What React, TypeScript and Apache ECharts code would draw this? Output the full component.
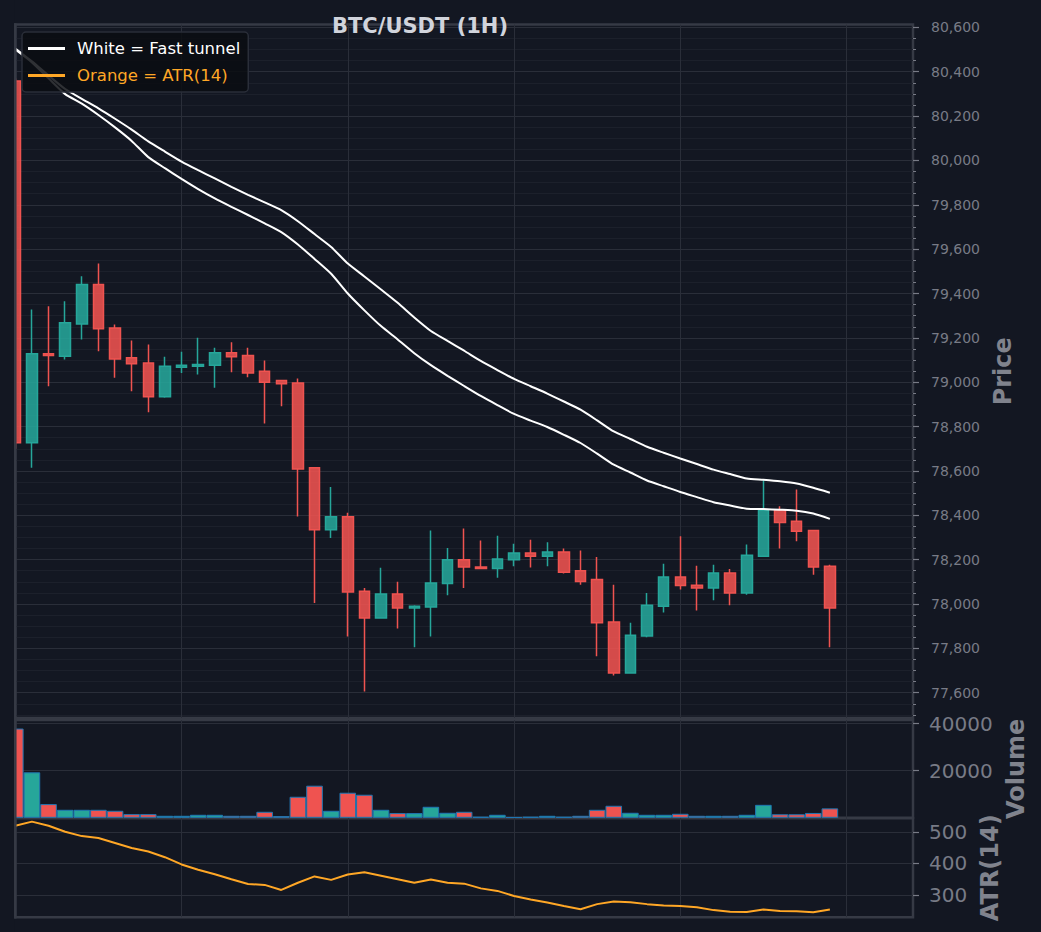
import { useEffect, useRef } from 'react'
import * as echarts from 'echarts'

// 50 hourly BTC/USDT candles
const opens = [
  80358, 78727, 79128, 79117, 79263, 79441, 79245, 79110, 79087, 78934,
  79068, 79072, 79077, 79133, 79120, 79050, 79008, 78997, 78614, 78335,
  78393, 78057, 77937, 78045, 77982, 77987, 78093, 78200, 78167, 78160,
  78200, 78230, 78215, 78235, 78150, 78110, 77919, 77689, 77856, 77990,
  78122, 78085, 78072, 78140, 78050, 78215, 78423, 78373, 78332, 78170,
]
const closes = [
  78727, 79128, 79120, 79268, 79441, 79241, 79105, 79083, 78934, 79072,
  79076, 79080, 79133, 79115, 79042, 79000, 78993, 78609, 78335, 78393,
  78054, 77937, 78045, 77982, 77990, 78095, 78200, 78167, 78160, 78203,
  78230, 78215, 78235, 78143, 78102, 77915, 77689, 77859, 77994, 78122,
  78084, 78072, 78140, 78050, 78220, 78423, 78368, 78328, 78167, 77982,
]
const lows = [
  78700, 78614, 78982, 79102, 79193, 79140, 79020, 78959, 78865, 78930,
  79042, 79035, 78975, 79045, 79023, 78814, 78892, 78395, 78005, 78298,
  77854, 77606, 77935, 77889, 77805, 77854, 78039, 78072, 78158, 78118,
  78170, 78165, 78170, 78138, 78087, 77764, 77678, 77686, 77850, 77962,
  78065, 77971, 78017, 77994, 78042, 78212, 78250, 78283, 78132, 77805,
]
const highs = [
  80370, 79328, 79343, 79365, 79478, 79535, 79260, 79188, 79170, 79115,
  79137, 79200, 79155, 79180, 79155, 79098, 79008, 79017, 78614, 78528,
  78411, 78072, 78163, 78100, 77994, 78331, 78253, 78340, 78286, 78308,
  78272, 78290, 78278, 78250, 78241, 78212, 78087, 77915, 78050, 78182,
  78305, 78173, 78177, 78158, 78268, 78561, 78441, 78516, 78335, 78177,
]
const volumes = [
  37860, 19290, 5810, 3400, 3400, 3400, 2980, 1560, 1560, 850,
  850, 1280, 1280, 850, 850, 2550, 710, 8930, 13610, 2980,
  10640, 9780, 3400, 1990, 1990, 4680, 2130, 2550, 430, 1280,
  280, 430, 850, 430, 850, 3400, 5100, 2130, 1280, 1280,
  1700, 850, 850, 850, 1280, 5500, 1500, 1500, 2050, 4000,
]
const atr14 = [
  520, 533, 520, 501, 487, 481, 465, 449, 438, 420,
  397, 380, 366, 350, 335, 332, 316, 339, 359, 348,
  365, 372, 361, 350, 339, 349, 339, 336, 321, 313,
  297, 286, 276, 265, 255, 271, 279, 277, 271, 267,
  265, 261, 252, 247, 246, 254, 249, 248, 245, 254,
]
const tunnelUpper = [
  80505, 80447, 80383, 80322, 80278, 80235, 80188, 80139, 80086, 80040,
  79995, 79956, 79919, 79881, 79845, 79811, 79776, 79726, 79668, 79610,
  79535, 79477, 79418, 79358, 79292, 79231, 79186, 79142, 79096, 79055,
  79015, 78982, 78949, 78913, 78876, 78828, 78778, 78744, 78709, 78682,
  78656, 78631, 78606, 78586, 78566, 78560, 78553, 78543, 78524, 78502,
]
const tunnelLower = [
  80500, 80442, 80370, 80299, 80256, 80205, 80149, 80088, 80015, 79965,
  79917, 79871, 79829, 79791, 79754, 79716, 79677, 79621, 79556, 79489,
  79400, 79324, 79253, 79193, 79131, 79077, 79029, 78983, 78938, 78897,
  78857, 78827, 78798, 78763, 78726, 78678, 78628, 78593, 78557, 78531,
  78505, 78482, 78459, 78444, 78430, 78428, 78425, 78421, 78408, 78384,
]

const priceTicks = [
  77600, 77800, 78000, 78200, 78400, 78600, 78800, 79000,
  79200, 79400, 79600, 79800, 80000, 80200, 80400, 80600,
]
const volumeTicks = [20000, 40000]
const atrTicks = [300, 400, 500]

// one slot per hour; the last few stay empty, right of the final candle
const slots = Array.from({ length: 55 }, (_, i) => `${i}`)

// minor price ticks every 50 between the labelled ones
const minorPriceTicks: number[] = []
for (let v = 77500; v <= 80600; v += 50) if (v % 200 !== 0) minorPriceTicks.push(v)

const BG = '#131722'
const GRID = '#2a2e39'
const MINOR = '#1c202b'
const SPINE = '#363a45'
const MUTED = '#787b86'
const UP = '#26a69a'
const DOWN = '#ef5350'
const ORANGE = '#ffa726'
const FONT = 'DejaVu Sans'

const LEFT = 15.3

const xAxisFor = (gridIndex: number) => ({
  type: 'category',
  gridIndex,
  data: slots,
  boundaryGap: false,
  axisLine: { show: false },
  axisTick: { show: false },
  axisLabel: { show: false },
  splitLine: {
    show: true,
    interval: (i: number) => i > 0 && i % 10 === 0,
    lineStyle: { color: GRID, width: 1 },
  },
})

const axisName = (name: string, gap: number) => ({
  name,
  nameLocation: 'middle',
  nameRotate: 90,
  nameGap: gap,
  nameTextStyle: { color: '#80838d', fontSize: 24, fontWeight: 'bold', fontFamily: FONT },
})

export default function App() {
  const chartRef = useRef<HTMLDivElement>(null)

  useEffect(() => {
    if (!chartRef.current) return

    const chart = echarts.init(chartRef.current, null, { renderer: 'svg' })

    const grid = { show: true, backgroundColor: BG, borderColor: SPINE, borderWidth: 2.5, left: LEFT, right: 128 }

    const option = {
      animation: false,
      backgroundColor: BG,
      textStyle: { fontFamily: FONT },
      title: {
        text: 'BTC/USDT (1H)',
        left: 327,
        top: 10,
        textStyle: { color: '#d1d4dc', fontSize: 21, fontWeight: 'bold', fontFamily: FONT },
      },
      legend: {
        left: 22,
        top: 32,
        orient: 'vertical',
        selectedMode: false,
        icon: 'rect',
        data: [
          { name: 'White = Fast tunnel', textStyle: { color: '#ffffff' } },
          { name: 'Orange = ATR(14)', textStyle: { color: ORANGE } },
        ],
        backgroundColor: 'rgba(11,13,18,0.85)',
        borderColor: GRID,
        borderWidth: 1.5,
        borderRadius: 4,
        padding: [8, 8, 8, 6],
        itemWidth: 37,
        itemHeight: 3,
        itemGap: 10,
        textStyle: { fontSize: 16.5, fontFamily: FONT, padding: [0, 0, 0, 7], lineHeight: 16 },
      },
      // the first candle sits on the left spine: mask what falls left of it
      graphic: [
        { type: 'rect', silent: true, z: 100, shape: { x: 0, y: 0, width: LEFT - 1.25, height: 932 }, style: { fill: BG } },
        {
          type: 'line',
          silent: true,
          z: 101,
          shape: { x1: LEFT, y1: 23.25, x2: LEFT, y2: 918.45 },
          style: { stroke: SPINE, lineWidth: 2.5 },
        },
      ],
      grid: [
        { ...grid, top: 24.5, height: 693.5 },
        { ...grid, top: 720, height: 97.8 },
        { ...grid, top: 818.3, height: 98.9 },
      ],
      xAxis: [xAxisFor(0), xAxisFor(1), xAxisFor(2)],
      yAxis: [
        {
          type: 'value',
          gridIndex: 0,
          position: 'right',
          min: 77486,
          max: 80613,
          splitNumber: 15,
          axisLine: { show: false },
          axisTick: { show: true, length: 6, customValues: priceTicks, lineStyle: { color: MUTED, width: 1.2 } },
          axisLabel: {
            color: MUTED,
            fontSize: 14,
            margin: 18,
            customValues: priceTicks,
            formatter: (v: number) => v.toLocaleString('en-US'),
          },
          splitLine: { show: true, lineStyle: { color: GRID, width: 1 } },
          ...axisName('Price', 74),
        },
        {
          type: 'value',
          gridIndex: 0,
          position: 'right',
          min: 77486,
          max: 80613,
          axisLine: { show: false },
          axisTick: { show: true, length: 3, customValues: minorPriceTicks, lineStyle: { color: MUTED, width: 1 } },
          axisLabel: { show: false },
          splitLine: { show: true, lineStyle: { color: MINOR, width: 1 } },
        },
        {
          type: 'value',
          gridIndex: 1,
          position: 'right',
          min: 0,
          max: 41490,
          axisLine: { show: false },
          axisTick: { show: true, length: 6, customValues: volumeTicks, lineStyle: { color: MUTED, width: 1.2 } },
          axisLabel: { color: MUTED, fontSize: 20, margin: 16, customValues: volumeTicks, formatter: (v: number) => String(v) },
          splitLine: { show: true, lineStyle: { color: GRID, width: 1 } },
          ...axisName('Volume', 75),
        },
        {
          type: 'value',
          gridIndex: 2,
          position: 'right',
          min: 229.5,
          max: 543.5,
          axisLine: { show: false },
          axisTick: { show: true, length: 6, customValues: atrTicks, lineStyle: { color: MUTED, width: 1.2 } },
          axisLabel: { color: MUTED, fontSize: 20, margin: 16, customValues: atrTicks },
          splitLine: { show: true, lineStyle: { color: GRID, width: 1 } },
          ...axisName('ATR(14)', 59),
        },
      ],
      series: [
        {
          name: 'BTC/USDT',
          type: 'candlestick',
          xAxisIndex: 0,
          yAxisIndex: 0,
          barWidth: 11,
          data: opens.map((o, i) => [o, closes[i], lows[i], highs[i]]),
          itemStyle: {
            color: 'rgba(38,166,154,0.88)',
            color0: 'rgba(239,83,80,0.88)',
            borderColor: UP,
            borderColor0: DOWN,
            borderWidth: 1.5,
          },
        },
        {
          name: 'White = Fast tunnel',
          type: 'line',
          xAxisIndex: 0,
          yAxisIndex: 0,
          data: tunnelUpper,
          symbol: 'none',
          smooth: 0.2,
          itemStyle: { color: '#ffffff' },
          lineStyle: { color: '#ffffff', width: 2 },
          z: 3,
        },
        {
          name: 'White = Fast tunnel',
          type: 'line',
          xAxisIndex: 0,
          yAxisIndex: 0,
          data: tunnelLower,
          symbol: 'none',
          smooth: 0.2,
          itemStyle: { color: '#ffffff' },
          lineStyle: { color: '#ffffff', width: 2 },
          z: 3,
        },
        {
          name: 'Volume',
          type: 'bar',
          xAxisIndex: 1,
          yAxisIndex: 2,
          barWidth: 16.6,
          data: volumes.map((v, i) => ({
            value: v,
            itemStyle: { color: closes[i] >= opens[i] ? UP : DOWN },
          })),
          itemStyle: { borderColor: '#1f77b4', borderWidth: 1 },
        },
        {
          name: 'Orange = ATR(14)',
          type: 'line',
          xAxisIndex: 2,
          yAxisIndex: 3,
          data: atr14,
          symbol: 'none',
          itemStyle: { color: ORANGE },
          lineStyle: { color: ORANGE, width: 2 },
        },
      ],
    }

    chart.setOption(option)

    return () => {
      chart.dispose()
    }
  }, [])

  return <div ref={chartRef} style={{ position: 'fixed', left: 0, top: 0, width: 1041, height: 932 }} />
}
